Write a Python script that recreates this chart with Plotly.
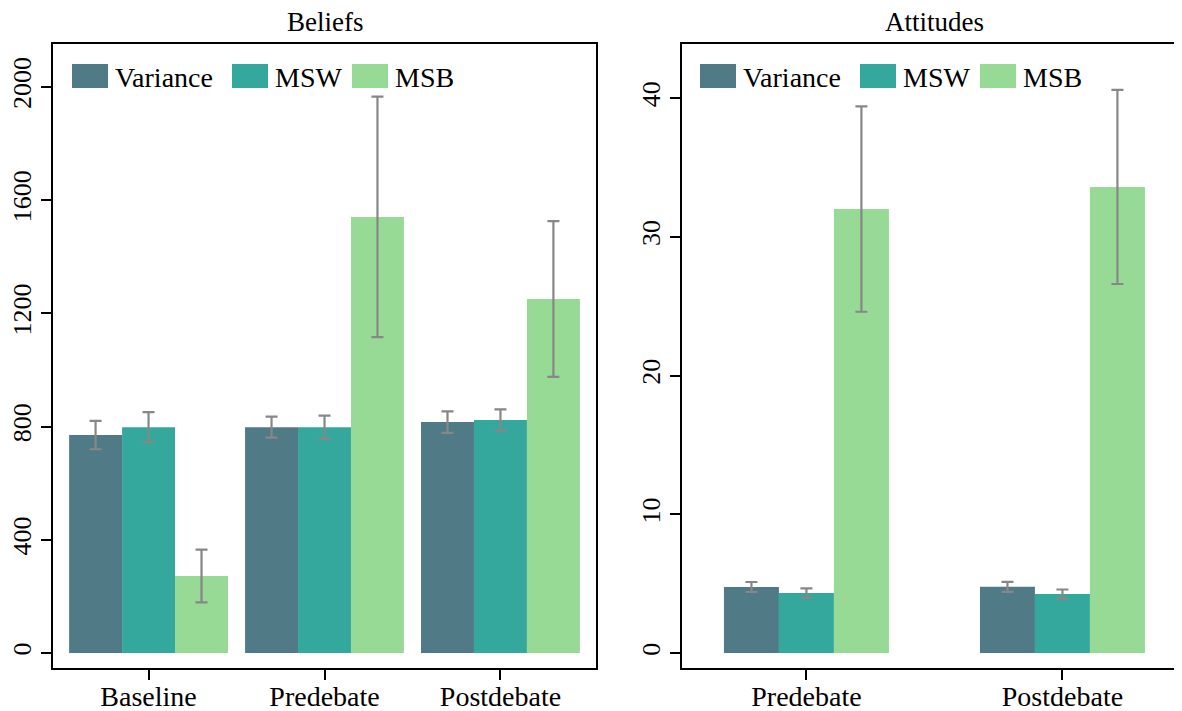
import plotly.graph_objects as go

# ---------------- data ----------------
series = ["Variance", "MSW", "MSB"]
colors = ["#507A86", "#34A89C", "#96DA96"]

belief_cats = ["Baseline", "Predebate", "Postdebate"]
belief_vals = {
    "Variance": [770, 798, 816],
    "MSW": [798, 798, 823],
    "MSB": [272, 1541, 1251],
}
belief_err = {
    "Variance": [50, 37, 38],
    "MSW": [53, 41, 38],
    "MSB": [93, 425, 275],
}

att_cats = ["Predebate", "Postdebate"]
att_vals = {
    "Variance": [4.76, 4.77],
    "MSW": [4.33, 4.25],
    "MSB": [32.0, 33.6],
}
att_err = {
    "Variance": [0.36, 0.36],
    "MSW": [0.33, 0.33],
    "MSB": [7.4, 7.0],
}

belief_ticks = [0, 400, 800, 1200, 1600, 2000]
att_ticks = [0, 10, 20, 30, 40]

# ---------------- figure ----------------
OFF = 8  # page body margin in the browser
WIN_W, WIN_H = 1182, 711
W, H = WIN_W - OFF, WIN_H - OFF
PT, PB = 44, 668  # plot area top/bottom in window pixels
MT, MB = PT - OFF, WIN_H - PB
FONT = "Liberation Serif"
ERRC = "#878787"

fig = go.Figure()

def add_panel(cats, vals, errs, xa, ya, bw):
    xs = list(range(len(cats)))
    for i, s in enumerate(series):
        fig.add_trace(go.Bar(
            x=xs, y=vals[s], name=s, marker=dict(color=colors[i], line=dict(width=0)),
            width=bw, offset=(i - 1.5) * bw,
            error_y=dict(type="data", array=errs[s], color=ERRC, thickness=2.2, width=6),
            xaxis=xa, yaxis=ya, showlegend=False,
        ))

add_panel(belief_cats, belief_vals, belief_err, "x", "y", 0.301)
add_panel(att_cats, att_vals, att_err, "x2", "y2", 0.2148)

# window-pixel -> paper coordinates
px = lambda p: (p - OFF) / W
py = lambda p: (PB - p) / (PB - PT)

axis_common = dict(showgrid=False, zeroline=False, linecolor="black", linewidth=2,
                   ticks="outside", ticklen=10, tickwidth=1.5, tickcolor="black",
                   automargin=False)
yfont = dict(family=FONT, size=26, color="black")
xfont = dict(family=FONT, size=28, color="black")

fig.update_layout(
    width=W, height=H,
    margin=dict(l=0, r=0, t=MT, b=MB),
    paper_bgcolor="white", plot_bgcolor="white",
    barmode="group",
    xaxis=dict(domain=[px(53), px(596)], range=[-0.543, 2.543], tickvals=[0, 1, 2],
               ticktext=belief_cats, showline=True, mirror=True, anchor="y",
               ticklabelstandoff=-8, tickfont=xfont, **axis_common),
    yaxis=dict(range=[-53, 2152], tickvals=belief_ticks, ticktext=[str(t) for t in belief_ticks],
               tickangle=-90, showline=True, mirror=True, anchor="x", ticklabelstandoff=0,
               tickfont=yfont, **axis_common),
    xaxis2=dict(domain=[px(682), 1.0], range=[-0.486, 1.467], tickvals=[0, 1],
                ticktext=att_cats, showline=True, mirror=True, anchor="y2",
                ticklabelstandoff=-8, tickfont=xfont, **axis_common),
    yaxis2=dict(range=[-1.08, 43.9], tickvals=att_ticks, ticktext=[str(t) for t in att_ticks],
                tickangle=-90, showline=True, mirror=False, anchor="x2", ticklabelstandoff=0,
                tickfont=yfont, **axis_common),
    showlegend=False,
)

# panel titles
for txt, xc in [("Beliefs", (53 + 596) / 2), ("Attitudes", (682 + 1187) / 2)]:
    fig.add_annotation(text=txt, x=px(xc), y=py(22), xref="paper", yref="paper",
                       xanchor="center", yanchor="middle", showarrow=False,
                       font=dict(family=FONT, size=27, color="black"))

# legends (one per panel)
item_offsets = [0, 160, 280]
for start in [72, 700]:
    for i, s in enumerate(series):
        x0 = start + item_offsets[i]
        fig.add_shape(type="rect", xref="paper", yref="paper",
                      x0=px(x0), x1=px(x0 + 36), y0=py(88), y1=py(64),
                      fillcolor=colors[i], line=dict(width=0))
        fig.add_annotation(text=s, x=px(x0 + 41), y=py(77), xref="paper", yref="paper",
                           xanchor="left", yanchor="middle", showarrow=False,
                           font=dict(family=FONT, size=28, color="black"))

fig.write_html("out.html")
